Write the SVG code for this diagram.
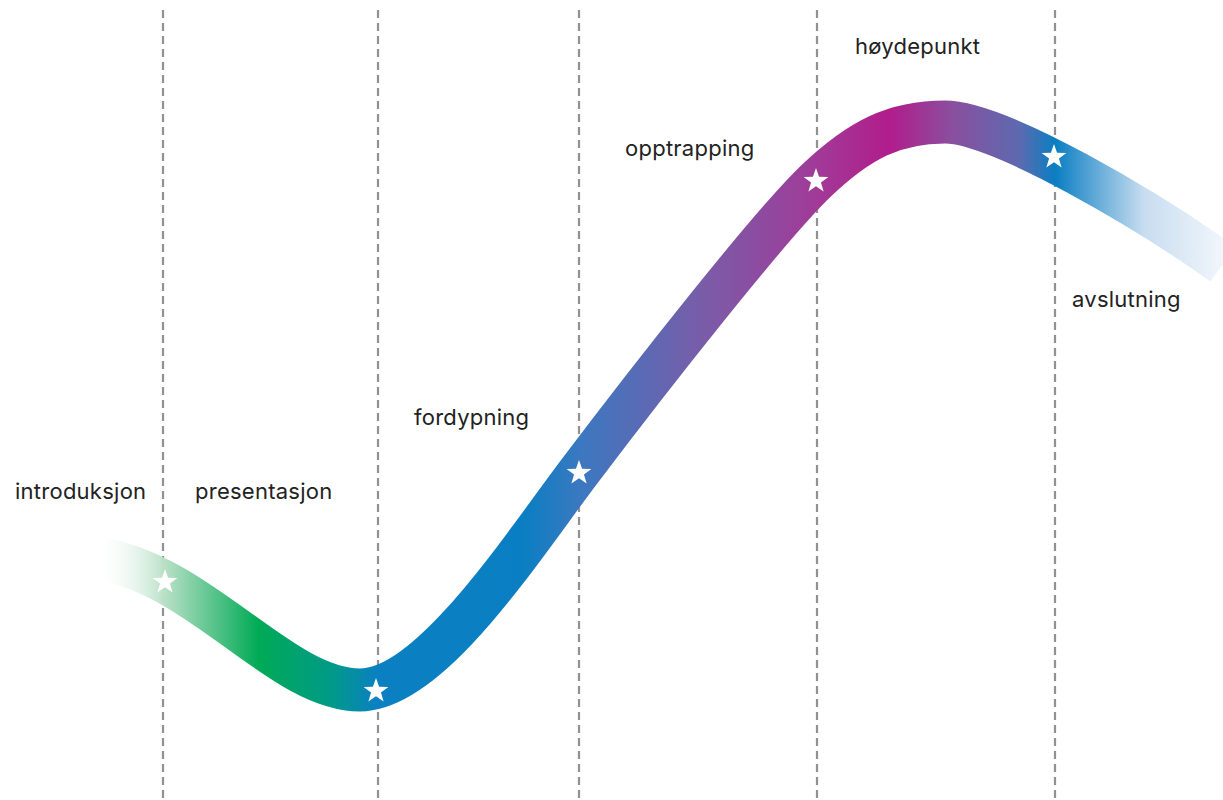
<svg xmlns="http://www.w3.org/2000/svg" width="1223" height="800" viewBox="0 0 1223 800">
<style>
.grid{stroke:#919191;stroke-width:2.2;stroke-dasharray:8 5;fill:none}
.lbl{font-family:Inter,"Noto Sans","Liberation Sans",sans-serif;font-size:22px;letter-spacing:0.25px;fill:#222}
.star{fill:#fff}
</style>
<defs>
<linearGradient id="band" gradientUnits="userSpaceOnUse" x1="95" y1="0" x2="1223" y2="0">
<stop offset="0" stop-color="#ffffff" stop-opacity="0"/>
<stop offset="0.062" stop-color="#b8e0c6"/>
<stop offset="0.145" stop-color="#00aa55"/>
<stop offset="0.21" stop-color="#009a88"/>
<stop offset="0.25" stop-color="#0a80c2"/>
<stop offset="0.38" stop-color="#0a7ec2"/>
<stop offset="0.43" stop-color="#3b78c0"/>
<stop offset="0.54" stop-color="#7a5ca8"/>
<stop offset="0.64" stop-color="#a13a98"/>
<stop offset="0.705" stop-color="#b11d8c"/>
<stop offset="0.76" stop-color="#8a4f9e"/>
<stop offset="0.82" stop-color="#5c6ab0"/>
<stop offset="0.851" stop-color="#0a7ec2"/>
<stop offset="0.93" stop-color="#c8ddf0"/>
<stop offset="1" stop-color="#f1f6fb"/>
</linearGradient>
<polygon id="s" points="0,-13 3.06,-4.21 12.36,-4.02 4.95,1.61 7.64,10.52 0,5.2 -7.64,10.52 -4.95,1.61 -12.36,-4.02 -3.06,-4.21"/>
</defs>
<g id="gridlines">
<line class="grid" x1="163" y1="10" x2="163" y2="800"/>
<line class="grid" x1="378" y1="10" x2="378" y2="800"/>
<line class="grid" x1="579" y1="10" x2="579" y2="800"/>
<line class="grid" x1="817" y1="10" x2="817" y2="800"/>
<line class="grid" x1="1055" y1="10" x2="1055" y2="800"/>
</g>
<g id="curve">
<path d="M95,558 C200,572 280,690 360,690 C430,690 520,550 579,472 C650,378 770,225 816,181 C860,139 895,122 945,122 C1000,122 1150,212 1223,264" fill="none" stroke="url(#band)" stroke-width="43"/>
</g>
<g id="stars">
<use href="#s" class="star" x="165" y="582"/>
<use href="#s" class="star" x="376" y="691"/>
<use href="#s" class="star" x="579" y="473"/>
<use href="#s" class="star" x="816" y="181"/>
<use href="#s" class="star" x="1054" y="157"/>
</g>
<g id="labels">
<text class="lbl" x="15" y="499">introduksjon</text>
<text class="lbl" x="195" y="499">presentasjon</text>
<text class="lbl" x="414" y="425">fordypning</text>
<text class="lbl" x="625" y="156">opptrapping</text>
<text class="lbl" x="855" y="54">høydepunkt</text>
<text class="lbl" x="1072" y="307">avslutning</text>
</g>
</svg>
